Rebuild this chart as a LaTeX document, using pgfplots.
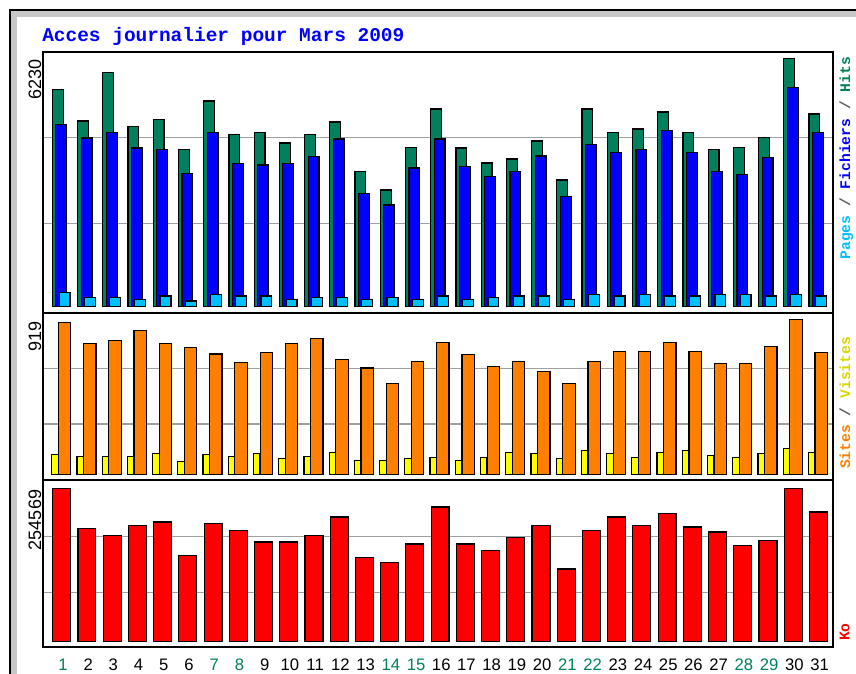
\documentclass[border=0pt]{standalone}
\usepackage{pgfplots}
\pgfplotsset{compat=1.18}
\usepackage{fontspec}
\setmainfont{Liberation Sans}
\newfontfamily\monob{Liberation Mono}
\definecolor{hitsc}{HTML}{00805C}
\definecolor{filesc}{HTML}{0000FF}
\definecolor{pagesc}{HTML}{00C0FF}
\definecolor{visitc}{HTML}{FFFF00}
\definecolor{sitec}{HTML}{FF8000}
\definecolor{koc}{HTML}{FF0000}
\definecolor{gridc}{HTML}{A0A0A0}
\definecolor{wk}{HTML}{00805C}
\newcommand\wk[1]{\textnormal{\color{wk}#1}}
\newcommand\nd[1]{\textnormal{#1}}
\pgfplotsset{
  panel/.style={
    scale only axis, width=592.5pt,
    xmin=0.274, xmax=31.595,
    axis line style={black, line width=1.1pt},
    xtick=\empty,
    major tick length=0pt,
    ymajorgrids, grid style={gridc, line width=1.1pt},
    yticklabels={},
    extra y tick style={grid=none, yticklabel style={rotate=90, anchor=south east, inner sep=1pt, font=\fontsize{13.5}{14}\selectfont}},
    axis on top=false,
  },
  bars/.style={ybar, draw=black, line width=0.9pt},
}
\begin{document}
\begin{tikzpicture}
\useasboundingbox (0,0) rectangle (642pt,505.5pt);
\fill[white] (0,0) rectangle (642pt,505.5pt);
\fill[black!22] (7.5pt,-10pt) rectangle (700pt,498pt);
\fill[white] (12.5pt,-10pt) rectangle (700pt,493pt);
\draw[black, line width=0.9pt] (7.5pt,-10pt) -- (7.5pt,498pt) -- (700pt,498pt);
\node[anchor=base west, inner sep=0pt, text=filesc, font=\monob\bfseries\fontsize{14.6}{15}\selectfont] at (31.5pt,474.7pt) {Acces journalier pour Mars 2009};

% ---------- Hits / Files / Pages ----------
\begin{axis}[panel, at={(32.25pt,270.75pt)}, anchor=south west, height=195.75pt,
  ymin=-158, ymax=6388, ytick={2092,4248},
  extra y ticks={6230}, extra y tick labels={\nd{6230}}]
\addplot[bars, fill=hitsc, bar width=0.43, bar shift=-0.14] coordinates {
(1,5451)(2,4657)(3,5877)(4,4523)(5,4698)(6,3938)(7,5158)(8,4314)(9,4364)(10,4105)
(11,4314)(12,4631)(13,3386)(14,2926)(15,3988)(16,4957)(17,3979)(18,3603)(19,3703)(20,4155)
(21,3177)(22,4957)(23,4372)(24,4456)(25,4882)(26,4372)(27,3946)(28,3988)(29,4239)(30,6230)(31,4832)};
\addplot[bars, fill=filesc, bar width=0.43, bar shift=0] coordinates {
(1,4573)(2,4230)(3,4364)(4,3979)(5,3938)(6,3344)(7,4364)(8,3595)(9,3553)(10,3595)
(11,3762)(12,4205)(13,2842)(14,2550)(15,3478)(16,4205)(17,3520)(18,3269)(19,3394)(20,3779)
(21,2759)(22,4071)(23,3862)(24,3946)(25,4414)(26,3862)(27,3394)(28,3311)(29,3737)(30,5501)(31,4372)};
\addplot[bars, fill=pagesc, bar width=0.43, bar shift=0.13] coordinates {
(1,351)(2,226)(3,226)(4,184)(5,268)(6,142)(7,309)(8,268)(9,268)(10,184)
(11,226)(12,226)(13,184)(14,226)(15,184)(16,268)(17,184)(18,226)(19,268)(20,268)
(21,184)(22,309)(23,268)(24,309)(25,268)(26,268)(27,309)(28,309)(29,268)(30,309)(31,268)};
\end{axis}

% ---------- Visits / Sites ----------
\begin{axis}[panel, at={(32.25pt,145.5pt)}, anchor=south west, height=125.25pt,
  ymin=-32.6, ymax=957.5, ytick={299,630},
  extra y ticks={919}, extra y tick labels={\nd{919}}]
\addplot[bars, fill=visitc, bar width=0.26, bar shift=-0.25] coordinates {
(1,117)(2,107)(3,107)(4,107)(5,126)(6,77)(7,117)(8,107)(9,126)(10,97)
(11,107)(12,132)(13,83)(14,83)(15,93)(16,103)(17,83)(18,103)(19,132)(20,123)
(21,93)(22,142)(23,123)(24,103)(25,132)(26,142)(27,113)(28,103)(29,123)(30,152)(31,132)};
\addplot[bars, fill=sitec, bar width=0.49, bar shift=0.127] coordinates {
(1,903)(2,775)(3,794)(4,854)(5,775)(6,755)(7,715)(8,664)(9,725)(10,775)
(11,804)(12,682)(13,632)(14,541)(15,670)(16,781)(17,711)(18,640)(19,670)(20,611)
(21,541)(22,670)(23,731)(24,731)(25,781)(26,731)(27,660)(28,660)(29,761)(30,919)(31,721)};
\end{axis}

% ---------- Ko ----------
\begin{axis}[panel, at={(32.25pt,20.25pt)}, anchor=south west, height=125.25pt,
  ymin=-8799, ymax=268455, ytick={81350,174300},
  extra y ticks={254569}, extra y tick labels={\nd{254569}},
  xtick={1,...,31},
  xticklabels={\wk{1},\nd{2},\nd{3},\nd{4},\nd{5},\nd{6},\wk{7},\wk{8},\nd{9},\nd{10},\nd{11},\nd{12},\nd{13},\wk{14},\wk{15},\nd{16},\nd{17},\nd{18},\nd{19},\nd{20},\wk{21},\wk{22},\nd{23},\nd{24},\nd{25},\nd{26},\nd{27},\wk{28},\wk{29},\nd{30},\nd{31}},
  xticklabel style={anchor=base, inner sep=0pt, yshift=-17.25pt, xshift=1.2pt, font=\fontsize{12.5}{13}\selectfont},
  scaled y ticks=false]
\addplot[bars, fill=koc, bar width=0.71, bar shift=0.016] coordinates {
(1,253900)(2,187600)(3,176500)(4,193100)(5,198700)(6,142800)(7,195900)(8,184800)(9,165500)(10,165500)
(11,176500)(12,207000)(13,140000)(14,131700)(15,162100)(16,223600)(17,162100)(18,151100)(19,173200)(20,193100)
(21,120600)(22,184800)(23,207000)(24,193100)(25,212500)(26,190400)(27,182100)(28,159900)(29,168200)(30,254569)(31,215300)};
\end{axis}

% ---------- right-hand legends ----------
\node[rotate=90, anchor=north east, inner sep=0pt, font=\monob\bfseries\fontsize{11}{12}\selectfont] at (629.5pt,462.9pt)
  {\textcolor{pagesc}{Pages} \textcolor{black!65}{/} \textcolor{filesc}{Fichiers} \textcolor{black!65}{/} \textcolor{hitsc}{Hits}};
\node[rotate=90, anchor=north east, inner sep=0pt, font=\monob\bfseries\fontsize{11}{12}\selectfont] at (629.5pt,253pt)
  {\textcolor{sitec}{Sites} \textcolor{black!65}{/} \textcolor{visitc!85!black}{Visites}};
\node[rotate=90, anchor=north east, inner sep=0pt, font=\monob\bfseries\fontsize{11}{12}\selectfont] at (629.5pt,38.3pt)
  {\textcolor{koc}{Ko}};
\end{tikzpicture}
\end{document}
